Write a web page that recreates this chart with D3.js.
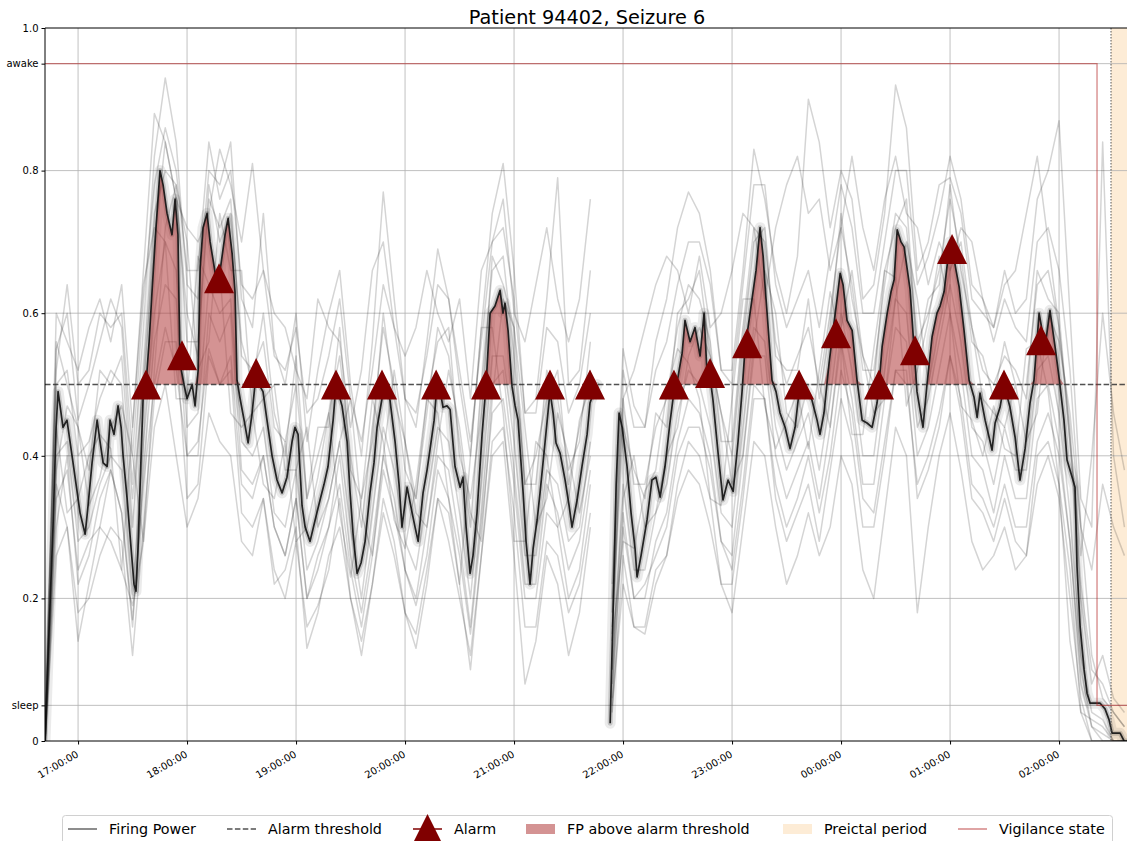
<!DOCTYPE html>
<html>
<head>
<meta charset="utf-8">
<script src="https://cdn.jsdelivr.net/npm/d3@7"></script>
<style>
  body { margin: 0; background: #fff; }
  svg { display: block; font-family: "DejaVu Sans", sans-serif; }
</style>
</head>
<body>
<svg id="chart" width="1127" height="841"></svg>
<script>
// ---------------------------------------------------------------------------
// Data (times are minutes after 16:00 on the first day)
// ---------------------------------------------------------------------------
const chartTitle = "Patient 94402, Seizure 6";

// Firing power of the ensemble (main trace)
const fpMinutes = [
  41.8,43.5,46.2,47.9,49.0,50.1,51.7,53.9,56.7,58.9,
  61.1,63.9,65.5,67.7,70.5,72.1,73.8,76.0,77.6,79.8,
  82.0,83.7,84.8,87.0,89.2,90.8,91.9,93.0,94.7,95.8,
  97.4,99.1,100.7,102.9,105.1,106.8,109.0,111.7,113.4,115.0,
  116.1,118.3,120.0,122.8,124.4,126.1,127.2,128.8,131.0,132.7,
  134.3,136.5,138.2,140.9,142.6,144.8,146.4,147.5,149.2,151.4,
  153.6,155.8,157.4,159.6,161.8,164.0,166.8,169.5,172.3,175.0,
  177.8,179.4,181.1,183.3,185.0,187.7,190.5,193.2,195.4,197.6,
  200.4,202.0,203.1,205.3,208.1,209.7,211.4,213.6,215.8,218.0,
  220.7,222.9,224.6,227.3,228.4,230.1,231.7,234.5,236.7,238.3,
  241.1,243.9,245.5,247.2,249.9,252.1,253.8,256.0,257.6,258.7,
  260.9,263.1,264.8,267.5,270.3,271.9,273.6,275.8,277.4,279.6,
  282.4,284.6,286.8,289.5,292.3,293.9,295.0,296.7,298.9,300.6,
  302.2,305.0,306.6,308.8,310.5,312.7,314.3,317.1,319.8,321.5,
  323.1,325.3,328.1,330.3,331.9,334.7,337.4,340.2,341.8,344.0,
  345.7,348.0,352.9,354.5,356.2,357.8,359.5,362.2,364.4,366.6,
  367.7,369.9,373.2,375.9,378.1,380.4,383.1,385.8,388.0,390.2,
  392.5,394.1,396.9,399.6,402.4,404.6,406.2,407.9,409.5,412.3,
  415.0,417.8,420.6,423.3,425.5,427.2,428.8,431.0,433.2,435.4,
  437.1,438.2,439.3,442.0,444.2,446.4,449.2,451.9,454.7,456.9,
  458.5,461.3,464.0,466.8,468.4,470.6,473.4,476.1,477.8,479.5,
  481.1,483.3,486.1,488.8,491.6,494.3,497.1,499.8,500.9,502.6,
  505.4,507.5,509.2,510.9,513.0,514.7,518.0,520.2,521.8,523.5,
  525.1,527.3,530.1,532.8,534.5,536.7,538.3,540.0,541.1,543.3,
  545.0,547.7,550.5,553.2,554.9,556.5,559.3,561.5,563.1,564.8,
  567.5,569.7,573.0,575.8,578.5,581.3,584.0,586.2,589.0,592.3,
  595.0,597.8,600.0,602.7,604.4,607.2,608.8,609.9,611.6,613.8,
  615.4,617.1,622.6,625.3,627.5,629.2,633.6,635.8,637.4
];
const fpValues = [
  0.0,0.12,0.30,0.44,0.49,0.47,0.44,0.45,0.40,0.36,
  0.32,0.29,0.33,0.39,0.45,0.42,0.39,0.385,0.45,0.43,
  0.47,0.44,0.40,0.34,0.27,0.22,0.21,0.27,0.40,0.48,
  0.50,0.56,0.63,0.72,0.80,0.78,0.74,0.71,0.76,0.71,
  0.53,0.50,0.48,0.50,0.47,0.52,0.665,0.72,0.74,0.70,
  0.675,0.64,0.66,0.71,0.733,0.684,0.63,0.506,0.48,0.45,
  0.418,0.46,0.50,0.50,0.49,0.45,0.40,0.366,0.348,0.37,
  0.42,0.44,0.43,0.33,0.30,0.28,0.31,0.338,0.36,0.385,
  0.45,0.50,0.49,0.47,0.42,0.35,0.29,0.235,0.25,0.28,
  0.348,0.39,0.44,0.48,0.50,0.49,0.478,0.42,0.36,0.30,
  0.356,0.32,0.30,0.28,0.348,0.38,0.41,0.45,0.50,0.50,
  0.468,0.47,0.465,0.385,0.356,0.37,0.30,0.235,0.26,0.32,
  0.43,0.50,0.60,0.61,0.632,0.60,0.614,0.576,0.497,0.47,
  0.45,0.348,0.28,0.22,0.27,0.31,0.348,0.42,0.49,0.46,
  0.418,0.404,0.366,0.33,0.30,0.338,0.385,0.43,0.474,0.49,
  0.50,null,0.025,0.18,0.36,0.46,0.44,0.385,0.32,0.27,
  0.23,0.26,0.31,0.366,0.37,0.342,0.385,0.446,0.49,0.51,
  0.544,0.59,0.56,0.58,0.54,0.60,0.516,0.51,0.478,0.404,
  0.338,0.366,0.35,0.42,0.49,0.553,0.58,0.62,0.66,0.72,
  0.68,0.637,0.60,0.506,0.49,0.46,0.44,0.41,0.44,0.49,
  0.50,0.49,0.478,0.45,0.43,0.46,0.53,0.586,0.62,0.656,
  0.64,0.59,0.576,0.506,0.45,0.446,0.44,0.474,0.50,0.553,
  0.60,0.63,0.647,0.717,0.70,0.693,0.633,0.55,0.49,0.464,
  0.44,0.50,0.567,0.60,0.61,0.63,0.665,0.70,0.693,0.66,
  0.637,0.576,0.506,0.482,0.454,0.488,0.45,0.426,0.408,0.446,
  0.468,0.50,0.468,0.426,0.366,0.41,0.474,0.506,0.60,0.553,
  0.604,0.553,0.51,0.45,0.394,0.37,0.356,0.244,0.16,0.10,
  0.067,0.053,0.053,0.045,0.03,0.011,0.011,0.0,0.0
];

// Individual model runs, sampled every 6 minutes (null = recording gap)
const runMinutes = [
  42,48,54,60,66,72,78,84,90,96,
  102,108,114,120,126,132,138,144,150,156,
  162,168,174,180,186,192,198,204,210,216,
  222,228,234,240,246,252,258,264,270,276,
  282,288,294,300,306,312,318,324,330,336,
  342,348,354,360,366,372,378,384,390,396,
  402,408,414,420,426,432,438,444,450,456,
  462,468,474,480,486,492,498,504,510,516,
  522,528,534,540,546,552,558,564,570,576,
  582,588,594,600,606,612,618,624,630,636
];
const runA = [
  0.02,0.55,0.60,0.45,0.50,0.56,0.62,0.58,0.36,0.58,
  0.82,0.93,0.84,0.64,0.62,0.80,0.78,0.84,0.62,0.58,
  0.74,0.55,0.50,0.60,0.42,0.52,0.60,0.66,0.50,0.40,
  0.56,0.77,0.62,0.48,0.44,0.56,0.69,0.62,0.50,0.40,
  0.58,0.74,0.81,0.66,0.46,0.48,0.62,0.79,0.50,0.52,
  0.66,null,0.22,0.55,0.47,0.44,0.56,0.62,0.72,0.77,
  0.74,0.66,0.52,0.52,0.66,0.83,0.76,0.66,0.60,0.68,
  0.90,0.84,0.72,0.80,0.76,0.62,0.64,0.74,0.92,0.86,
  0.66,0.70,0.78,0.79,0.74,0.62,0.60,0.58,0.66,0.60,
  0.62,0.76,0.80,0.87,0.60,0.34,0.30,0.84,0.40,0.30
];
const runB = [
  0.0,0.30,0.40,0.22,0.26,0.34,0.38,0.32,0.17,0.36,
  0.50,0.58,0.52,0.40,0.42,0.55,0.50,0.54,0.36,0.34,
  0.40,0.30,0.26,0.34,0.20,0.24,0.30,0.36,0.24,0.16,
  0.26,0.38,0.32,0.24,0.19,0.26,0.38,0.34,0.26,0.15,
  0.30,0.46,0.48,0.36,0.20,0.20,0.32,0.30,0.20,0.24,
  0.36,null,0.08,0.30,0.20,0.22,0.26,0.30,0.40,0.44,
  0.44,0.38,0.28,0.24,0.36,0.50,0.48,0.36,0.30,0.34,
  0.40,0.32,0.40,0.52,0.46,0.34,0.32,0.42,0.52,0.50,
  0.36,0.40,0.46,0.54,0.48,0.36,0.34,0.30,0.36,0.30,
  0.30,0.42,0.46,0.40,0.28,0.10,0.02,0.0,0.0,0.0
];
const runC = [
  0.03,0.60,0.56,0.52,0.58,0.62,0.56,0.64,0.44,0.66,
  0.88,0.84,0.76,0.72,0.70,0.74,0.83,0.78,0.70,0.81,
  0.66,0.60,0.58,0.52,0.48,0.62,0.58,0.56,0.44,0.52,
  0.66,0.70,0.58,0.54,0.58,0.66,0.60,0.56,0.62,0.48,
  0.66,0.70,0.76,0.60,0.56,0.64,0.72,0.62,0.56,0.62,
  0.76,null,0.18,0.48,0.52,0.58,0.64,0.68,0.66,0.60,
  0.68,0.58,0.60,0.66,0.74,0.72,0.62,0.72,0.78,0.82,
  0.74,0.76,0.66,0.72,0.82,0.72,0.66,0.76,0.82,0.74,
  0.72,0.64,0.70,0.66,0.72,0.70,0.62,0.58,0.64,0.66,
  0.74,0.82,0.70,0.58,0.42,0.26,0.40,0.60,0.46,0.38
];
const runD = [
  0.0,0.36,0.30,0.14,0.22,0.30,0.28,0.24,0.19,0.28,
  0.44,0.50,0.40,0.30,0.34,0.46,0.42,0.40,0.28,0.26,
  0.34,0.22,0.24,0.30,0.13,0.18,0.26,0.30,0.20,0.14,
  0.22,0.32,0.26,0.18,0.13,0.22,0.34,0.28,0.20,0.12,
  0.26,0.40,0.42,0.26,0.08,0.14,0.26,0.22,0.12,0.18,
  0.30,null,0.05,0.22,0.16,0.15,0.22,0.26,0.34,0.38,
  0.36,0.30,0.22,0.18,0.30,0.42,0.40,0.30,0.22,0.26,
  0.32,0.26,0.30,0.40,0.36,0.24,0.20,0.32,0.44,0.40,
  0.18,0.30,0.40,0.46,0.38,0.28,0.24,0.26,0.30,0.24,
  0.26,0.36,0.40,0.34,0.20,0.06,0.0,0.0,0.0,0.0
];
const runE = [
  0.01,0.50,0.52,0.40,0.42,0.48,0.52,0.50,0.30,0.52,
  0.74,0.80,0.78,0.56,0.56,0.76,0.72,0.76,0.54,0.52,
  0.56,0.44,0.42,0.50,0.34,0.40,0.46,0.54,0.40,0.30,
  0.44,0.58,0.50,0.38,0.34,0.46,0.58,0.54,0.42,0.30,
  0.50,0.66,0.68,0.54,0.36,0.36,0.52,0.48,0.38,0.42,
  0.56,null,0.15,0.48,0.36,0.36,0.44,0.48,0.58,0.64,
  0.62,0.56,0.42,0.42,0.58,0.72,0.70,0.56,0.50,0.54,
  0.58,0.50,0.60,0.72,0.64,0.52,0.52,0.64,0.74,0.72,
  0.56,0.60,0.66,0.76,0.68,0.56,0.54,0.48,0.56,0.50,
  0.50,0.64,0.66,0.58,0.44,0.22,0.10,0.08,0.04,0.02
];
const runF = [
  0.0,0.40,0.42,0.28,0.30,0.36,0.40,0.38,0.20,0.42,
  0.60,0.70,0.66,0.44,0.46,0.64,0.60,0.62,0.42,0.40,
  0.44,0.32,0.30,0.38,0.24,0.28,0.34,0.42,0.30,0.20,
  0.32,0.44,0.38,0.28,0.24,0.34,0.44,0.42,0.32,0.20,
  0.36,0.54,0.54,0.42,0.26,0.26,0.38,0.36,0.28,0.30,
  0.42,null,0.10,0.36,0.24,0.24,0.32,0.36,0.46,0.52,
  0.50,0.44,0.32,0.30,0.44,0.58,0.56,0.44,0.38,0.42,
  0.46,0.38,0.48,0.60,0.52,0.40,0.40,0.52,0.62,0.60,
  0.44,0.48,0.56,0.64,0.56,0.44,0.42,0.36,0.44,0.38,
  0.38,0.52,0.54,0.46,0.32,0.12,0.04,0.03,0.0,0.0
];
const runG = [
  0.0,0.38,0.47,0.44,0.33,0.37,0.44,0.47,0.40,0.28,
  0.52,0.72,0.78,0.70,0.52,0.56,0.74,0.66,0.66,0.46,
  0.48,0.50,0.38,0.38,0.44,0.30,0.34,0.42,0.48,0.32,
  0.26,0.40,0.52,0.42,0.32,0.30,0.42,0.52,0.44,0.32,
  0.28,0.48,0.62,0.58,0.44,0.30,0.34,0.46,0.40,0.32,
  0.40,null,0.10,0.34,0.40,0.30,0.32,0.40,0.44,0.54,
  0.58,0.54,0.46,0.36,0.40,0.56,0.66,0.60,0.46,0.44,
  0.50,0.50,0.44,0.58,0.66,0.54,0.46,0.48,0.62,0.70,
  0.62,0.50,0.58,0.66,0.70,0.58,0.48,0.46,0.44,0.50,
  0.42,0.46,0.60,0.56,0.46,0.30,0.12,0.06,0.04,0.02
];
const runH = [
  0.0,0.44,0.32,0.34,0.40,0.43,0.41,0.24,0.44,0.64,
  0.72,0.70,0.48,0.48,0.68,0.64,0.66,0.46,0.44,0.46,
  0.36,0.34,0.42,0.28,0.30,0.37,0.46,0.32,0.23,0.34,
  0.48,0.42,0.31,0.27,0.36,0.48,0.46,0.34,0.22,0.40,
  0.58,0.58,0.46,0.28,0.28,0.42,0.40,0.30,0.34,0.45,
  0.50,null,0.14,0.28,0.27,0.35,0.38,0.49,0.55,0.53,
  0.48,0.34,0.33,0.48,0.62,0.62,0.47,0.41,0.45,0.49,
  0.41,0.52,0.63,0.56,0.43,0.43,0.55,0.66,0.65,0.47,
  0.52,0.59,0.68,0.60,0.47,0.45,0.40,0.47,0.41,0.40,
  0.55,0.56,0.49,0.36,0.14,0.04,0.03,0.02,0.0,0.0
];
const runI = [
  0.02,0.52,0.64,0.50,0.52,0.60,0.58,0.60,0.40,0.62,
  0.78,0.86,0.80,0.66,0.66,0.84,0.76,0.80,0.64,0.62,
  0.66,0.54,0.52,0.58,0.46,0.48,0.54,0.62,0.48,0.42,
  0.52,0.64,0.58,0.48,0.46,0.54,0.64,0.62,0.52,0.42,
  0.56,0.70,0.72,0.62,0.46,0.46,0.58,0.56,0.46,0.50,
  0.60,null,0.20,0.52,0.44,0.44,0.52,0.56,0.64,0.70,
  0.70,0.64,0.52,0.50,0.64,0.78,0.78,0.64,0.58,0.62,
  0.66,0.58,0.68,0.78,0.72,0.60,0.60,0.70,0.80,0.80,
  0.64,0.68,0.74,0.82,0.76,0.64,0.62,0.56,0.62,0.58,
  0.56,0.70,0.72,0.66,0.52,0.30,0.24,0.36,0.30,0.26
];
const runJ = [
  0.0,0.26,0.30,0.18,0.20,0.26,0.30,0.28,0.12,0.30,
  0.48,0.56,0.56,0.34,0.36,0.54,0.50,0.52,0.32,0.30,
  0.34,0.24,0.20,0.28,0.16,0.19,0.24,0.34,0.20,0.12,
  0.22,0.34,0.28,0.18,0.15,0.24,0.34,0.32,0.22,0.10,
  0.26,0.42,0.44,0.32,0.16,0.16,0.28,0.26,0.18,0.22,
  0.32,null,0.04,0.26,0.16,0.16,0.24,0.26,0.36,0.42,
  0.40,0.34,0.22,0.22,0.34,0.48,0.48,0.34,0.28,0.32,
  0.36,0.28,0.38,0.48,0.42,0.30,0.30,0.40,0.52,0.52,
  0.34,0.38,0.44,0.54,0.46,0.34,0.32,0.28,0.34,0.28,
  0.26,0.40,0.42,0.36,0.24,0.04,0.0,0.0,0.0,0.0
];
const runK = [
  0.01,0.56,0.50,0.44,0.38,0.52,0.50,0.54,0.34,0.50,
  0.70,0.84,0.76,0.60,0.54,0.78,0.70,0.74,0.56,0.50,
  0.60,0.46,0.40,0.54,0.34,0.44,0.44,0.58,0.38,0.34,
  0.42,0.60,0.48,0.42,0.34,0.48,0.56,0.58,0.40,0.34,
  0.46,0.68,0.64,0.58,0.36,0.40,0.48,0.52,0.36,0.44,
  0.52,null,0.16,0.44,0.38,0.34,0.46,0.44,0.60,0.62,
  0.66,0.54,0.46,0.40,0.56,0.70,0.72,0.54,0.52,0.52,
  0.62,0.48,0.58,0.74,0.62,0.54,0.50,0.66,0.72,0.76,
  0.54,0.62,0.64,0.78,0.66,0.58,0.52,0.50,0.54,0.52,
  0.48,0.66,0.62,0.60,0.42,0.20,0.08,0.12,0.06,0.04
];
const runL = [
  0.0,0.34,0.38,0.24,0.28,0.30,0.38,0.32,0.16,0.38,
  0.56,0.64,0.62,0.40,0.40,0.60,0.56,0.60,0.38,0.36,
  0.40,0.30,0.26,0.34,0.20,0.26,0.30,0.40,0.26,0.18,
  0.28,0.40,0.34,0.24,0.20,0.30,0.40,0.38,0.28,0.16,
  0.32,0.50,0.52,0.38,0.22,0.22,0.36,0.32,0.24,0.28,
  0.38,null,0.06,0.32,0.20,0.20,0.28,0.32,0.42,0.48,
  0.46,0.40,0.28,0.26,0.40,0.54,0.54,0.40,0.34,0.38,
  0.42,0.34,0.44,0.56,0.48,0.36,0.36,0.48,0.58,0.56,
  0.40,0.44,0.52,0.60,0.52,0.40,0.38,0.32,0.40,0.34,
  0.34,0.48,0.50,0.42,0.28,0.08,0.02,0.01,0.0,0.0
];
const modelRuns = [runA, runB, runC, runD, runE, runF, runG, runH, runI, runJ, runK, runL];

// Raised alarms: time and firing power at that time
const alarmMinutes = [97.4,117.2,137.6,158.0,202.0,227.3,257.1,284.6,319.8,341.8,
                      388.0,407.9,428.3,456.9,477.2,500.9,520.7,541.1,569.7,590.1];
const alarmValues  = [0.50,0.541,0.649,0.516,0.50,0.50,0.50,0.50,0.50,0.50,
                      0.50,0.516,0.558,0.50,0.572,0.50,0.548,0.69,0.50,0.562];

const alarmThreshold = 0.5;

// Vigilance state (awake / sleep)
const vigilanceMinutes = [41.8, 620.9, 620.9, 637.4];
const vigilanceValues  = [0.95, 0.95, 0.05, 0.05];

// Preictal period onset
const preictalStartMinutes = 628.6;

// Axis ticks
const yTickValues = [0, 0.05, 0.2, 0.4, 0.6, 0.8, 0.95, 1.0];
const yTickLabels = ["0", "sleep", "0.2", "0.4", "0.6", "0.8", "awake", "1.0"];
const xTickMinutes = [60, 120, 180, 240, 300, 360, 420, 480, 540, 600];

const legendLabels = ["Firing Power", "Alarm threshold", "Alarm",
                      "FP above alarm threshold", "Preictal period", "Vigilance state"];

// ---------------------------------------------------------------------------
// Layout and scales
// ---------------------------------------------------------------------------
const plotL = 45, plotR = 1127, plotT = 28, plotB = 741;
const t0 = new Date(2000, 0, 1, 16, 0, 0);
const toTime = m => new Date(t0.getTime() + m * 60000);

const x = d3.scaleTime().domain([toTime(41.8), toTime(637.4)]).range([plotL, plotR]);
const y = d3.scaleLinear().domain([0, 1]).range([plotB, plotT]);

const svg = d3.select("#chart");

svg.append("defs").append("clipPath").attr("id", "plotClip")
  .append("rect").attr("x", plotL).attr("y", plotT)
  .attr("width", plotR - plotL).attr("height", plotB - plotT);

const plot = svg.append("g").attr("clip-path", "url(#plotClip)");

const toPoints = (mins, vals) => mins.map((m, i) => ({ t: toTime(m), v: vals[i] }));
const fpPoints = toPoints(fpMinutes, fpValues);

const line = d3.line()
  .defined(d => d.v != null)
  .x(d => x(d.t))
  .y(d => y(d.v));

// Preictal shading
plot.append("rect")
  .attr("x", x(toTime(preictalStartMinutes)))
  .attr("y", plotT)
  .attr("width", plotR - x(toTime(preictalStartMinutes)) + 5)
  .attr("height", plotB - plotT)
  .attr("fill", "#fdecd6");

// Grid
const grid = plot.append("g").attr("stroke", "#b0b0b0").attr("stroke-width", 0.8);
xTickMinutes.forEach(m => {
  grid.append("line")
    .attr("x1", x(toTime(m))).attr("x2", x(toTime(m)))
    .attr("y1", plotT).attr("y2", plotB);
});
yTickValues.filter(v => v > 0 && v < 1).forEach(v => {
  grid.append("line")
    .attr("x1", plotL).attr("x2", plotR)
    .attr("y1", y(v)).attr("y2", y(v));
});

// Individual runs
modelRuns.forEach(run => {
  plot.append("path")
    .attr("d", line(toPoints(runMinutes, run)))
    .attr("fill", "none")
    .attr("stroke", "#000")
    .attr("stroke-opacity", 0.17)
    .attr("stroke-width", 1.5)
    .attr("stroke-linejoin", "round");
});

// Ensemble firing power: dense halo of overlapping runs around the trace
[[11, 0.08], [5, 0.16]].forEach(([w, o]) => {
  plot.append("path")
    .attr("d", line(fpPoints))
    .attr("fill", "none")
    .attr("stroke", "#000")
    .attr("stroke-opacity", o)
    .attr("stroke-width", w)
    .attr("stroke-linejoin", "round")
    .attr("stroke-linecap", "round");
});

// Firing power above the alarm threshold
const aboveArea = d3.area()
  .defined(d => d.v != null)
  .x(d => x(d.t))
  .y0(y(alarmThreshold))
  .y1(d => y(Math.max(d.v, alarmThreshold)));
plot.append("path")
  .attr("d", aboveArea(fpPoints))
  .attr("fill", "#b03a3a")
  .attr("fill-opacity", 0.55);

plot.append("path")
  .attr("d", line(fpPoints))
  .attr("fill", "none")
  .attr("stroke", "#111")
  .attr("stroke-opacity", 0.9)
  .attr("stroke-width", 1.7)
  .attr("stroke-linejoin", "round");

// Alarm threshold
plot.append("line")
  .attr("x1", plotL).attr("x2", plotR)
  .attr("y1", y(alarmThreshold)).attr("y2", y(alarmThreshold))
  .attr("stroke", "#333").attr("stroke-opacity", 0.85)
  .attr("stroke-width", 1.5).attr("stroke-dasharray", "5.5,2.4");

// Preictal onset marker
plot.append("line")
  .attr("x1", x(toTime(preictalStartMinutes))).attr("x2", x(toTime(preictalStartMinutes)))
  .attr("y1", plotT).attr("y2", plotB)
  .attr("stroke", "#555").attr("stroke-width", 1).attr("stroke-dasharray", "1.5,1.5");

// Vigilance state
plot.append("path")
  .attr("d", line(toPoints(vigilanceMinutes, vigilanceValues)))
  .attr("fill", "none")
  .attr("stroke", "#b22222").attr("stroke-opacity", 0.55)
  .attr("stroke-width", 1.3);

// Alarms
const tri = s => `M0,${-s / 2}L${s / 2},${s / 2}L${-s / 2},${s / 2}Z`;
svg.append("g").selectAll("path")
  .data(alarmMinutes.map((m, i) => ({ t: toTime(m), v: alarmValues[i] })))
  .join("path")
  .attr("d", tri(30))
  .attr("transform", d => `translate(${x(d.t)},${y(d.v)})`)
  .attr("fill", "#800000");

// Spines
const spines = svg.append("g").attr("stroke", "#000").attr("stroke-width", 1).attr("fill", "none");
spines.append("line").attr("x1", plotL).attr("x2", plotL).attr("y1", plotT).attr("y2", plotB);
spines.append("line").attr("x1", plotL).attr("x2", plotR).attr("y1", plotT).attr("y2", plotT);
spines.append("line").attr("x1", plotL).attr("x2", plotR).attr("y1", plotB).attr("y2", plotB);

// Y axis
const yAxis = svg.append("g")
  .attr("transform", `translate(${plotL},0)`)
  .call(d3.axisLeft(y).tickValues(yTickValues)
    .tickFormat((d, i) => yTickLabels[i]).tickSize(3.5).tickPadding(3));
yAxis.select(".domain").remove();
yAxis.selectAll("text").attr("font-size", "10px").attr("fill", "#000")
  .attr("font-family", "DejaVu Sans, sans-serif");
yAxis.selectAll("line").attr("stroke", "#000");

// X axis
const xAxis = svg.append("g")
  .attr("transform", `translate(0,${plotB})`)
  .call(d3.axisBottom(x).tickValues(xTickMinutes.map(toTime))
    .tickFormat(d3.timeFormat("%H:%M:%S")).tickSize(3.5));
xAxis.select(".domain").remove();
xAxis.selectAll("line").attr("stroke", "#000");
xAxis.selectAll("text")
  .attr("font-size", "10px").attr("fill", "#000")
  .attr("font-family", "DejaVu Sans, sans-serif")
  .attr("text-anchor", "end")
  .attr("x", 0).attr("y", 0).attr("dy", "0.72em")
  .attr("transform", "translate(-3,9) rotate(-30)");

// Title
svg.append("text")
  .attr("x", 587).attr("y", 23.5)
  .attr("text-anchor", "middle")
  .attr("font-size", "19.3px")
  .attr("fill", "#000")
  .text(chartTitle);

// Legend
const legend = svg.append("g");
legend.append("rect")
  .attr("x", 62.5).attr("y", 815.5).attr("width", 1050).attr("height", 40)
  .attr("rx", 3).attr("fill", "#fff").attr("stroke", "#d0d0d0");
const ly = 829;
const textX = [109, 268, 454, 567, 824, 999];
const handleLen = 29;
const hx = i => textX[i] - 12 - handleLen;

legend.append("line").attr("x1", hx(0)).attr("x2", hx(0) + handleLen).attr("y1", ly).attr("y2", ly)
  .attr("stroke", "#000").attr("stroke-opacity", 0.6).attr("stroke-width", 1.5);
legend.append("line").attr("x1", hx(1)).attr("x2", hx(1) + handleLen).attr("y1", ly).attr("y2", ly)
  .attr("stroke", "#333").attr("stroke-opacity", 0.85).attr("stroke-width", 1.5)
  .attr("stroke-dasharray", "5.5,2.4");
legend.append("line").attr("x1", hx(2)).attr("x2", hx(2) + handleLen).attr("y1", ly).attr("y2", ly)
  .attr("stroke", "#800000").attr("stroke-width", 1.5);
legend.append("path").attr("d", tri(30))
  .attr("transform", `translate(${hx(2) + handleLen / 2},${ly})`).attr("fill", "#800000");
legend.append("rect").attr("x", hx(3)).attr("y", ly - 5).attr("width", handleLen).attr("height", 10)
  .attr("fill", "#b03a3a").attr("fill-opacity", 0.55);
legend.append("rect").attr("x", hx(4)).attr("y", ly - 5).attr("width", handleLen).attr("height", 10)
  .attr("fill", "#fdecd6");
legend.append("line").attr("x1", hx(5)).attr("x2", hx(5) + handleLen).attr("y1", ly).attr("y2", ly)
  .attr("stroke", "#b22222").attr("stroke-opacity", 0.55).attr("stroke-width", 1.5);

legendLabels.forEach((lab, i) => {
  legend.append("text")
    .attr("x", textX[i]).attr("y", ly).attr("dy", "0.36em")
    .attr("font-size", "14.3px").attr("fill", "#000")
    .text(lab);
});
</script>
</body>
</html>
